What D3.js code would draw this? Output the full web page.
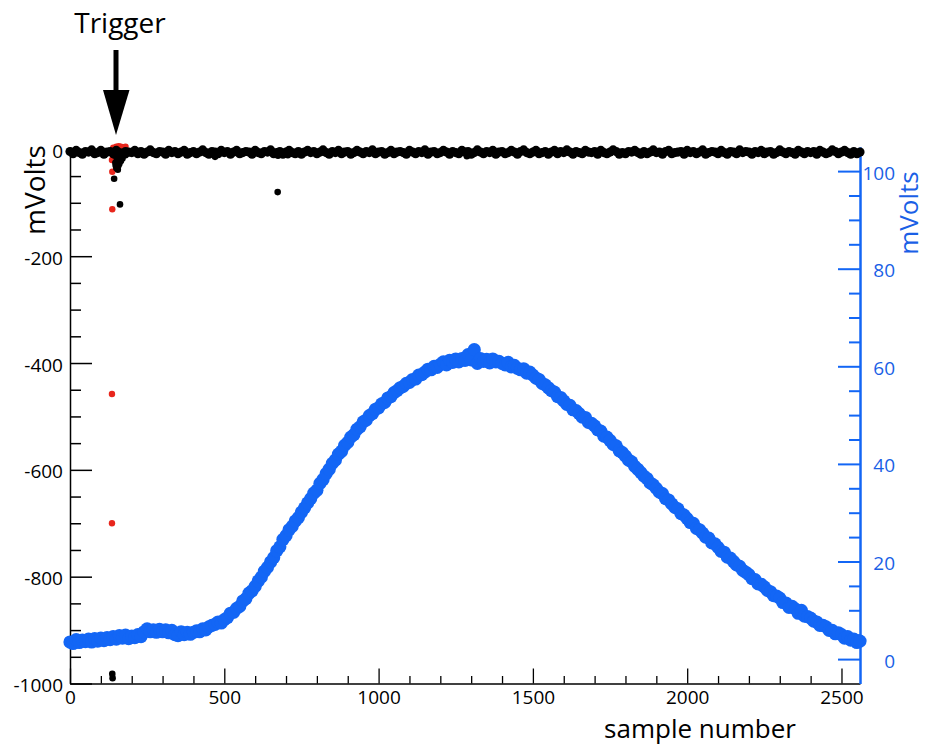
<!DOCTYPE html>
<html>
<head>
<meta charset="utf-8">
<script src="https://cdn.jsdelivr.net/npm/d3@7"></script>
<style>
  html, body { margin: 0; padding: 0; background: #fff; }
  svg { display: block; }
  text { font-family: "Open Sans", "Noto Sans", sans-serif; }
</style>
</head>
<body>
<svg id="chart" width="927" height="746"></svg>
<script>
// ---------------- data ----------------
// x axis: sample number
const xDomain = [0, 2560];
const xMajorTicks = [0, 500, 1000, 1500, 2000, 2500];
// left axis (mVolts, black/red channels)
const yLeftDomain = [-1000, 5];
const yLeftMajorTicks = [-1000, -800, -600, -400, -200, 0];
// right axis (mVolts, blue channel)
const yRightDomain = [-5, 105];
const yRightMajorTicks = [0, 20, 40, 60, 80, 100];

// blue channel, one value every 10 samples starting at sample 0
const blueStep = 10;
const blueValues = [
  3.5,3.2,4.0,3.4,3.9,3.6,4.1,3.5,4.2,3.7,
  4.3,3.8,4.4,4.0,4.6,4.1,4.8,4.3,4.9,4.2,
  4.7,4.4,5.0,4.6,5.6,6.2,5.6,6.0,5.5,6.1,
  5.6,6.0,5.4,5.9,5.0,4.8,5.6,5.0,5.5,5.1,
  5.5,5.8,5.6,6.2,6.0,6.6,6.9,7.1,7.6,7.4,
  8.1,8.5,9.4,9.6,10.4,10.8,11.9,12.4,13.5,14.0,
  14.9,16.0,16.8,18.0,18.8,19.9,20.8,22.2,23.0,24.5,
  25.3,26.5,27.2,28.3,29.0,30.1,31.0,32.0,32.9,34.0,
  34.6,36.0,36.8,38.0,38.9,40.1,40.8,42.0,42.6,43.8,
  44.4,45.5,46.0,47.1,47.6,48.6,49.0,49.9,50.3,51.2,
  51.5,52.3,52.6,53.5,53.8,54.6,55.0,55.6,55.9,56.5,
  56.7,57.3,57.4,58.2,58.3,58.8,59.4,59.3,60.0,59.8,
  60.4,60.9,60.3,61.2,60.8,61.5,60.9,61.6,61.2,62.4,
  61.3,63.4,60.6,61.6,61.0,61.4,60.7,61.5,60.9,61.0,
  60.6,60.3,60.8,59.9,60.2,59.6,59.3,59.5,58.6,58.8,
  58.2,57.6,57.3,56.5,56.2,55.6,55.0,54.7,53.8,53.6,
  52.9,52.2,52.0,51.1,50.9,50.3,49.6,49.5,48.5,48.3,
  47.8,47.0,46.7,45.7,45.5,44.8,44.0,43.7,42.7,42.3,
  41.6,40.8,40.4,39.5,38.9,38.2,37.5,37.0,36.1,35.7,
  35.0,34.2,33.9,32.9,32.6,31.8,31.1,30.8,29.8,29.5,
  28.8,28.0,27.8,26.8,26.5,25.8,25.0,24.8,23.8,23.6,
  22.9,22.1,21.9,20.9,20.7,20.0,19.3,19.0,18.2,17.8,
  17.3,16.5,16.3,15.4,15.3,14.8,14.1,13.8,13.0,12.9,
  12.5,11.6,11.5,10.6,10.8,10.3,9.4,10.0,8.8,8.7,
  8.4,7.8,7.6,6.9,6.9,6.6,5.9,5.9,5.2,5.4,
  5.0,4.3,4.6,3.9,4.1,3.4,3.7
];

// black channel baseline, one value every 10 samples starting at sample 0
const blackStep = 10;
const blackBaseline = [
  -4,-8,-2,-6,-9,-4,-5,-1,-8,-6,
  -2,-9,-5,-4,-8,-2,-6,-10,-4,-5,
  -6,-2,-8,-4,-9,-5,-1,-6,-8,-4,
  -5,-9,-2,-6,-4,-8,-5,-2,-9,-6,
  -4,-8,-5,-1,-6,-9,-4,-5,-8,-2,
  -6,-4,-9,-5,-2,-8,-6,-4,-5,-9,
  -2,-6,-8,-4,-5,-1,-8,-6,-4,-9,
  -5,-2,-6,-8,-4,-9,-5,-2,-6,-4,
  -8,-5,-1,-6,-9,-4,-6,-2,-8,-5,
  -4,-9,-6,-2,-5,-8,-4,-6,-1,-8,
  -5,-4,-9,-6,-2,-8,-5,-4,-6,-9,
  -2,-5,-8,-4,-6,-1,-9,-5,-4,-8,
  -6,-2,-5,-9,-4,-6,-8,-2,-5,-4,
  -9,-6,-1,-5,-8,-4,-6,-2,-9,-5,
  -4,-8,-6,-2,-5,-9,-4,-1,-6,-8,
  -5,-2,-8,-6,-4,-9,-5,-2,-8,-4,
  -6,-1,-5,-9,-4,-6,-8,-2,-5,-6,
  -4,-9,-2,-6,-8,-5,-1,-4,-9,-6,
  -8,-4,-5,-2,-6,-9,-4,-8,-5,-1,
  -6,-5,-9,-4,-2,-8,-6,-5,-4,-9,
  -2,-6,-4,-8,-5,-1,-9,-6,-4,-5,
  -8,-2,-6,-9,-4,-5,-8,-1,-6,-4,
  -5,-9,-4,-6,-2,-8,-5,-4,-9,-6,
  -1,-5,-8,-4,-6,-9,-2,-5,-8,-4,
  -6,-4,-9,-2,-5,-8,-6,-1,-4,-8,
  -5,-2,-6,-9,-4,-8,-5
];

// black channel: trigger dip and outliers
const blackExtraX = [145,147,148,150,152,153,155,157,160,162,165,168,170,175,180,185,190,200,
                     143,162,673,470,674,706,1286,137,138];
const blackExtraY = [-12,-25,-30,-35,-20,-28,-38,-30,-27,-15,-22,-12,-17,-9,-11,-6,-7,-4,
                     -55,-103,-80,-14,-12,-11,-13,-982,-990];

// red channel (mostly hidden under black), visible points
const redX = [140,150,158,165,172,180,136,137,137,136,136];
const redY = [3,5,6,5,4,5,-20,-42,-112,-458,-700];

// ---------------- drawing ----------------
const blue = "#1366f5";
const blueText = "#1a5fe6";
const red = "#e8261c";

const svg = d3.select("#chart");
svg.append("rect").attr("width", 927).attr("height", 746).attr("fill", "#fff");

const plot = { left: 70, right: 860, top: 146.7, bottom: 683.5 };

const x = d3.scaleLinear().domain(xDomain).range([plot.left, plot.right]);
const yL = d3.scaleLinear().domain(yLeftDomain).range([plot.bottom, plot.top]);
const yR = d3.scaleLinear().domain(yRightDomain).range([plot.bottom, plot.top]);

const tickFont = 19;
const fmt = d => String(d);  // plain hyphen minus, as in the original

// minor tick sets derived from major spacing
const xMinor = d3.range(0, 2561, 100).filter(v => v % 500 !== 0);
const yLMinor = d3.range(-1000, 1, 50).filter(v => v % 200 !== 0);
const yRMinor = d3.range(0, 101, 5).filter(v => v % 20 !== 0);

// left axis
const gL = svg.append("g").attr("transform", `translate(${plot.left},0)`);
gL.call(d3.axisLeft(yL).tickValues(yLMinor).tickSize(-11).tickSizeOuter(0).tickFormat(""));
gL.call(g => g.select(".domain").remove());
const gL2 = svg.append("g").attr("transform", `translate(${plot.left},0)`);
gL2.call(d3.axisLeft(yL).tickValues(yLeftMajorTicks).tickSize(-22).tickSizeOuter(0).tickPadding(7).tickFormat(fmt));
[gL, gL2].forEach(g => {
  g.selectAll("line").attr("stroke", "#000").attr("stroke-width", 1.5);
  g.selectAll(".domain").attr("stroke", "#000").attr("stroke-width", 1.5);
  g.selectAll("text").attr("font-size", tickFont).attr("fill", "#000")
    .attr("font-family", "Open Sans").attr("dy", "0.42em");
});

// bottom axis
const gB = svg.append("g").attr("transform", `translate(0,${plot.bottom})`);
gB.call(d3.axisBottom(x).tickValues(xMinor).tickSize(-7.5).tickSizeOuter(0).tickFormat(""));
gB.call(g => g.select(".domain").remove());
const gB2 = svg.append("g").attr("transform", `translate(0,${plot.bottom})`);
gB2.call(d3.axisBottom(x).tickValues(xMajorTicks).tickSize(-15).tickSizeOuter(0).tickPadding(7).tickFormat(fmt));
[gB, gB2].forEach(g => {
  g.selectAll("line").attr("stroke", "#000").attr("stroke-width", 1.3);
  g.selectAll(".domain").attr("stroke", "#000").attr("stroke-width", 1.5);
  g.selectAll("text").attr("font-size", tickFont).attr("fill", "#000").attr("font-family", "Open Sans");
});

// right axis
const gR = svg.append("g").attr("transform", `translate(${plot.right},0)`);
gR.call(d3.axisRight(yR).tickValues(yRMinor).tickSize(-11).tickSizeOuter(0).tickFormat(""));
gR.call(g => g.select(".domain").remove());
const gR2 = svg.append("g").attr("transform", `translate(${plot.right},0)`);
gR2.call(d3.axisRight(yR).tickValues(yRightMajorTicks).tickSize(-22).tickSizeOuter(0).tickFormat(fmt));
[gR, gR2].forEach(g => {
  g.selectAll("line").attr("stroke", blue).attr("stroke-width", 2);
  g.selectAll(".domain").attr("stroke", blue).attr("stroke-width", 2.5);
  g.selectAll("text").attr("font-size", tickFont).attr("fill", blueText)
    .attr("font-family", "Open Sans").attr("text-anchor", "end").attr("x", 35).attr("dy", "0.42em");
});

// blue data
svg.append("g").selectAll("circle")
  .data(blueValues)
  .join("circle")
  .attr("cx", (d, i) => x(i * blueStep))
  .attr("cy", d => yR(d))
  .attr("r", 6.6)
  .attr("fill", blue);

// red data (under black)
svg.append("g").selectAll("circle")
  .data(redX.map((v, i) => [v, redY[i]]))
  .join("circle")
  .attr("cx", d => x(d[0]))
  .attr("cy", d => yL(d[1]))
  .attr("r", 3.2)
  .attr("fill", red);

// black data: baseline band
svg.append("g").selectAll("circle")
  .data(blackBaseline.map((v, i) => [i * blackStep, v]))
  .join("circle")
  .attr("cx", d => x(d[0]))
  .attr("cy", d => yL(d[1]))
  .attr("r", 4.6)
  .attr("fill", "#000");

// black data: dip and outliers
svg.append("g").selectAll("circle")
  .data(blackExtraX.map((v, i) => [v, blackExtraY[i]]))
  .join("circle")
  .attr("cx", d => x(d[0]))
  .attr("cy", d => yL(d[1]))
  .attr("r", 3.3)
  .attr("fill", "#000");

// axis titles
svg.append("text")
  .attr("transform", "translate(45,190) rotate(-90)")
  .attr("text-anchor", "middle")
  .attr("font-size", 28)
  .attr("fill", "#000")
  .text("mVolts");

svg.append("text")
  .attr("transform", "translate(918,213) rotate(-90)")
  .attr("text-anchor", "middle")
  .attr("font-size", 26)
  .attr("fill", blueText)
  .text("mVolts");

svg.append("text")
  .attr("x", 700).attr("y", 737.5)
  .attr("text-anchor", "middle")
  .attr("font-size", 26)
  .attr("fill", "#000")
  .text("sample number");

// trigger annotation
svg.append("text")
  .attr("x", 120).attr("y", 33)
  .attr("text-anchor", "middle")
  .attr("font-size", 28)
  .attr("fill", "#000")
  .text("Trigger");

svg.append("rect").attr("x", 113.5).attr("y", 50).attr("width", 5).attr("height", 42).attr("fill", "#000");
svg.append("path").attr("d", "M103,90 L129.5,90 L116,135 Z").attr("fill", "#000");
</script>
</body>
</html>
